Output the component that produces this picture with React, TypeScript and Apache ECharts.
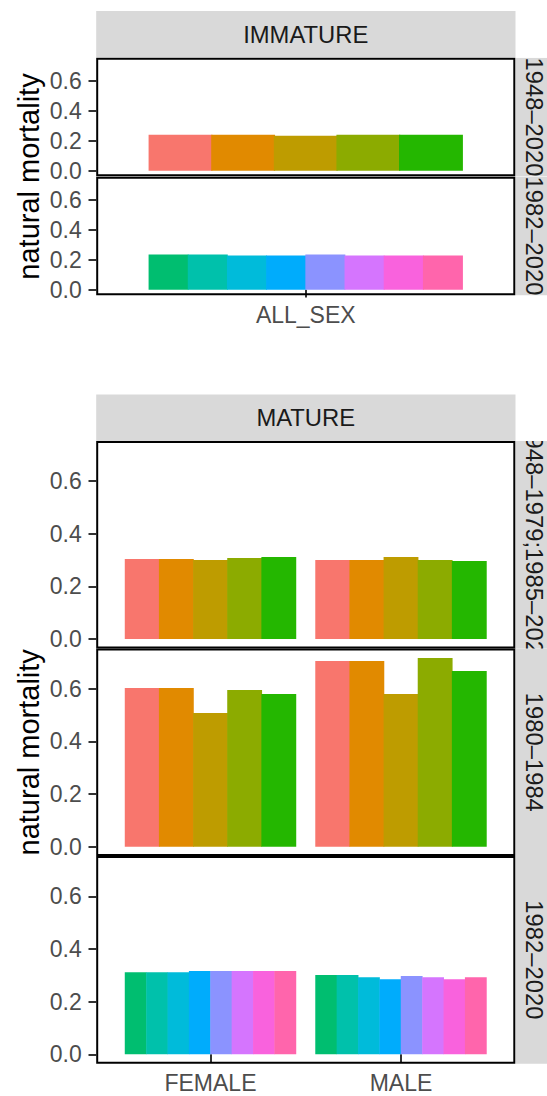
import React, { useEffect, useRef } from "react";
import * as echarts from "echarts";

// categories on the x axis
const immatureCats = ["ALL_SEX"];
const matureCats = ["FEMALE", "MALE"];

// ggplot hue palette with 13 levels: 5 for the long periods, 8 for 1982–2020
const levelColors = [
  "#F8766D", "#E18A00", "#BE9C00", "#8CAB00", "#24B700",
  "#00BE70", "#00C1AB", "#00BBDA", "#00ACFC", "#8B93FF", "#D575FE", "#F962DD", "#FF65AC",
];
const longLevels = [0, 1, 2, 3, 4];
const recentLevels = [5, 6, 7, 8, 9, 10, 11, 12];

const yTicks = [0, 0.2, 0.4, 0.6];
const yMin = -0.0358;
const yMax = 0.7528;

const stageLabels = ["IMMATURE", "MATURE"];
const immaturePeriods = ["1948–2020", "1982–2020"];
const maturePeriods = ["1948–1979;1985–2020", "1980–1984", "1982–2020"];

// one row per category, one value per level
const immature1948_2020 = [[0.24, 0.24, 0.233, 0.24, 0.24]];
const immature1982_2020 = [[0.236, 0.236, 0.229, 0.229, 0.236, 0.229, 0.229, 0.229]];

const mature1948_1979_1985_2020 = [
  [0.304, 0.304, 0.3, 0.308, 0.312], // FEMALE
  [0.3, 0.3, 0.312, 0.3, 0.297], // MALE
];
const mature1980_1984 = [
  [0.603, 0.603, 0.508, 0.595, 0.58],
  [0.705, 0.705, 0.58, 0.717, 0.667],
];
const mature1982_2020 = [
  [0.312, 0.312, 0.312, 0.316, 0.316, 0.316, 0.316, 0.316],
  [0.301, 0.301, 0.293, 0.285, 0.297, 0.293, 0.285, 0.293],
];

const FONT = "'Liberation Sans', Arial, Helvetica, sans-serif";
const X0 = 96.2; // panel left
const X1 = 515.3; // panel right
const STRIP = 46.3;
const STRIP_FONT = `23.8px ${FONT}`;

type Panel = { top: number; h: number; rows: number[][]; levels: number[]; period: string };
type Section = { label: string; stripTop: number; cats: string[]; panels: Panel[] };

const sections: Section[] = [
  {
    label: stageLabels[0],
    stripTop: 11,
    cats: immatureCats,
    panels: [
      { top: 57.8, h: 118.4, rows: immature1948_2020, levels: longLevels, period: immaturePeriods[0] },
      { top: 176.8, h: 118.4, rows: immature1982_2020, levels: recentLevels, period: immaturePeriods[1] },
    ],
  },
  {
    label: stageLabels[1],
    stripTop: 394.6,
    cats: matureCats,
    panels: [
      { top: 440.9, h: 207.6, rows: mature1948_1979_1985_2020, levels: longLevels, period: maturePeriods[0] },
      { top: 648.5, h: 207.6, rows: mature1980_1984, levels: longLevels, period: maturePeriods[1] },
      { top: 856.1, h: 207.6, rows: mature1982_2020, levels: recentLevels, period: maturePeriods[2] },
    ],
  },
];

const App: React.FC = () => {
  const chartRef = useRef<HTMLDivElement>(null);

  useEffect(() => {
    if (!chartRef.current) return;
    const myChart = echarts.init(chartRef.current, undefined, { renderer: "svg" });

    const grid: any[] = [];
    const xAxis: any[] = [];
    const yAxis: any[] = [];
    const series: any[] = [];
    const graphic: any[] = [];
    let z = 10;

    sections.forEach((sec) => {
      const n = sec.cats.length;
      const unit = (X1 - X0) / (n + 0.2); // ggplot adds 0.6 on each side
      const gridLeft = X0 + 0.1 * unit;
      const gridW = n * unit;

      // top strip
      graphic.push({
        type: "rect",
        z: z++,
        shape: { x: X0, y: sec.stripTop, width: X1 - X0 + 0.4, height: STRIP },
        style: { fill: "#D9D9D9" },
      });
      graphic.push({
        type: "text",
        z: z++,
        x: (X0 + X1) / 2,
        y: sec.stripTop + STRIP / 2,
        style: {
          text: sec.label,
          font: STRIP_FONT,
          fill: "#1A1A1A",
          textAlign: "center",
          textVerticalAlign: "middle",
        },
      });

      sec.panels.forEach((p, pi) => {
        const idx = grid.length;
        const last = pi === sec.panels.length - 1;
        grid.push({
          left: gridLeft,
          top: p.top,
          width: gridW,
          height: p.h,
          containLabel: false,
          outerBoundsMode: "none",
        });
        xAxis.push({
          type: "category",
          gridIndex: idx,
          data: sec.cats,
          axisLine: { show: false },
          splitLine: { show: false },
          axisTick: {
            show: last,
            alignWithLabel: true,
            length: 7.7,
            lineStyle: { color: "#333333", width: 2 },
          },
          axisLabel: {
            show: last,
            color: "#4D4D4D",
            fontSize: 23,
            fontFamily: FONT,
            lineHeight: 20,
            margin: 9.5,
          },
        });
        yAxis.push({
          type: "value",
          gridIndex: idx,
          min: yMin,
          max: yMax,
          offset: gridLeft - X0,
          axisLine: { show: false },
          splitLine: { show: false },
          axisTick: {
            show: true,
            length: 7.7,
            customValues: yTicks,
            lineStyle: { color: "#333333", width: 2 },
          },
          axisLabel: {
            color: "#4D4D4D",
            fontSize: 23,
            fontFamily: FONT,
            margin: 14.5,
            customValues: yTicks,
            formatter: (v: number) => v.toFixed(1),
          },
        });
        p.levels.forEach((lv, j) => {
          series.push({
            type: "bar",
            name: `level ${lv + 1}`,
            xAxisIndex: idx,
            yAxisIndex: idx,
            data: p.rows.map((r) => r[j]),
            barGap: "-2%", // slight overlap so neighbouring bars show no seam
            barCategoryGap: "10%",
            itemStyle: { color: levelColors[lv] },
          });
        });

        // right strip
        graphic.push({
          type: "rect",
          z: z++,
          shape: { x: X1 + 0.4, y: p.top, width: STRIP, height: p.h },
          style: { fill: "#D9D9D9" },
        });
        graphic.push({
          type: "text",
          z: z++,
          x: 534,
          y: p.top + p.h / 2,
          rotation: -Math.PI / 2,
          style: {
            text: p.period,
            font: STRIP_FONT,
            fill: "#1A1A1A",
            textAlign: "center",
            textVerticalAlign: "middle",
          },
        });
        // panel border
        graphic.push({
          type: "rect",
          z: 200,
          shape: { x: X0 + 1, y: p.top + 1, width: X1 - X0 - 2, height: p.h - 2 },
          style: { fill: "none", stroke: "#000000", lineWidth: 2 },
        });
      });

      // hide strip text that runs above the first right strip
      graphic.push({
        type: "rect",
        z: z++,
        shape: { x: X1 + 0.4, y: sec.stripTop - 10, width: STRIP, height: sec.panels[0].top - sec.stripTop + 10 },
        style: { fill: "#FFFFFF" },
      });

      const first = sec.panels[0];
      const lastP = sec.panels[sec.panels.length - 1];
      graphic.push({
        type: "text",
        z: z++,
        x: 29,
        y: (first.top + lastP.top + lastP.h) / 2,
        rotation: Math.PI / 2,
        style: {
          text: "natural mortality",
          font: `29px ${FONT}`,
          fill: "#000000",
          textAlign: "center",
          textVerticalAlign: "middle",
        },
      });
    });

    const option: echarts.EChartsOption = {
      animation: false,
      textStyle: { fontFamily: FONT },
      grid,
      xAxis,
      yAxis,
      series,
      graphic: { elements: graphic },
    };

    myChart.setOption(option);

    return () => {
      myChart.dispose();
    };
  }, []);

  return (
    <div
      ref={chartRef}
      style={{ position: "absolute", left: 0, top: 0, width: 547, height: 1096 }}
    />
  );
};

export default App;
